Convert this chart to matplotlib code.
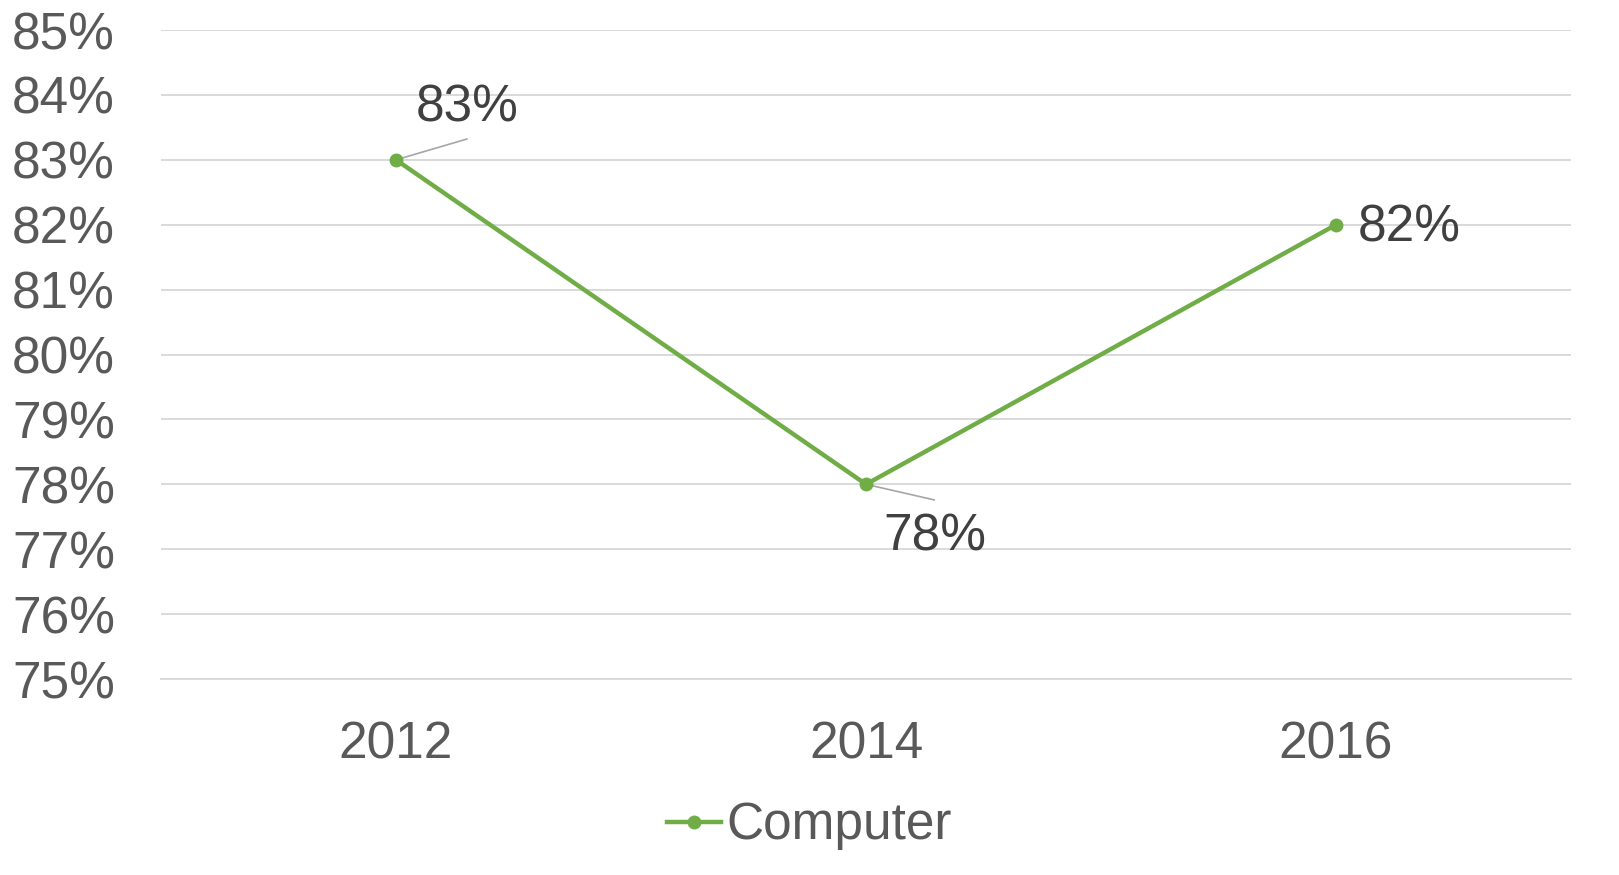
import matplotlib
matplotlib.use("Agg")
import matplotlib.pyplot as plt
from matplotlib.ticker import FuncFormatter

plt.rcParams['font.family'] = ['Liberation Sans', 'DejaVu Sans']

# data
years = ['2012', '2014', '2016']
computer = [83, 78, 82]
yticks = list(range(75, 86))

green = '#70AD47'
grid_col = '#D9D9D9'
tick_col = '#595959'
lab_col = '#404040'

fig = plt.figure(figsize=(16.19, 8.75), dpi=100)
ax = fig.add_axes([0.0994, 0.224, 0.871, 0.7417])

x = list(range(len(years)))
ax.plot(x, computer, color=green, lw=3.2, marker='o', ms=9,
        label='Computer', zorder=3)

ax.set_xlim(-0.5, 2.5)
ax.set_ylim(75, 85)
ax.set_yticks(yticks)
ax.yaxis.set_major_formatter(FuncFormatter(lambda v, p: '%d%%' % v))
ax.set_xticks(x)
ax.set_xticklabels(years)
ax.grid(axis='y', color=grid_col, lw=1.4)
ax.set_axisbelow(True)
for s in ['top', 'right', 'left']:
    ax.spines[s].set_visible(False)
ax.spines['bottom'].set_color(grid_col)
ax.spines['bottom'].set_linewidth(1.4)
ax.tick_params(axis='y', length=0, pad=33, labelsize=37, labelcolor=tick_col)
ax.tick_params(axis='x', length=0, pad=30, labelsize=37, labelcolor=tick_col)

# data labels (with leader lines on first two)
ax.plot([0, 0.151], [83, 83.32], color='#A6A6A6', lw=1.2, zorder=2)
ax.plot([1, 1.145], [78, 77.76], color='#A6A6A6', lw=1.2, zorder=2)
ax.text(0.043, 83.8, '%d%%' % computer[0], fontsize=37, color=lab_col,
        ha='left', va='center')
ax.text(1.038, 77.19, '%d%%' % computer[1], fontsize=37, color=lab_col,
        ha='left', va='center')
ax.text(2.047, 81.95, '%d%%' % computer[2], fontsize=37, color=lab_col,
        ha='left', va='center')

fig.legend(loc='center', bbox_to_anchor=(0.5, 0.056), frameon=False,
           fontsize=37, handlelength=1.05, handletextpad=0.1,
           labelcolor=tick_col)

fig.savefig('out.png', dpi=100)
